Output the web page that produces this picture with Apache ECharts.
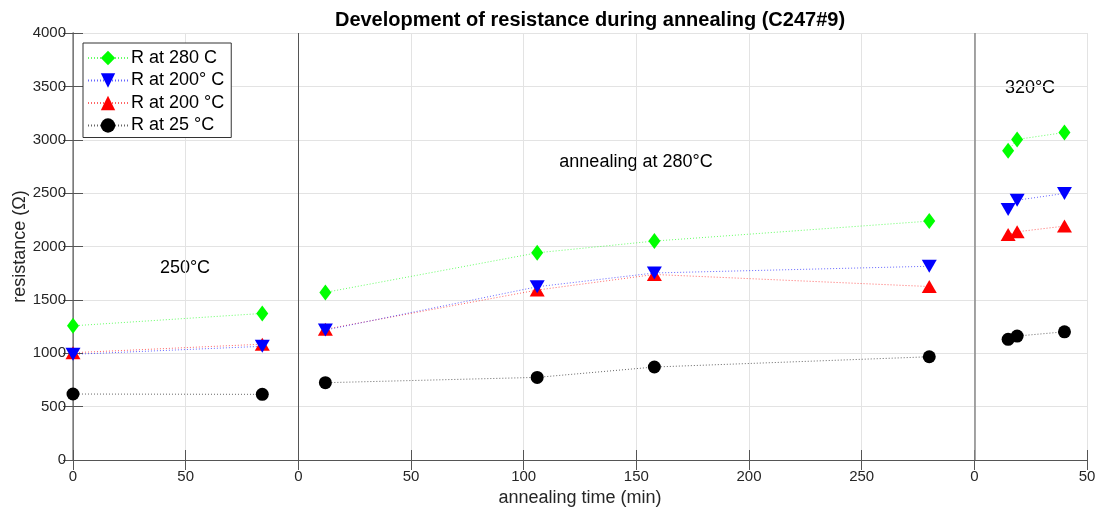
<!DOCTYPE html>
<html>
<head>
<meta charset="utf-8">
<script src="https://cdn.jsdelivr.net/npm/echarts@6/dist/echarts.min.js"></script>
<style>
html,body{margin:0;padding:0;background:#fff;}
#c{width:1097px;height:509px;}
</style>
</head>
<body>
<div id="c"></div>
<script>
// ---- data ----
const segmentOffset = [0, 100, 400];            // where each annealing stage starts on the shared x scale
const segmentOf    = [0, 0, 1, 1, 1, 1, 2, 2, 2];
const localTime    = [0, 84, 12, 106, 158, 280, 15, 19, 40];   // annealing time (min) within stage
const R280   = [1257, 1373, 1570, 1941, 2051, 2238, 2896, 3003, 3068];
const R200a  = [990, 1065, 1217, 1623, 1752, 1815, 2347, 2434, 2497];
const R200b  = [1005, 1085, 1225, 1592, 1738, 1625, 2113, 2138, 2191];
const R25    = [618, 615, 724, 774, 871, 967, 1130, 1161, 1201];
const xTickLabels = ['0', '50', '0', '50', '100', '150', '200', '250', '0', '50'];
const seriesNames = ['R at 280 C', 'R at 200° C', 'R at 200 °C', 'R at 25 °C'];

function build(vals) {
  const out = [];
  for (let i = 0; i < vals.length; i++) {
    if (i > 0 && segmentOf[i] !== segmentOf[i - 1]) out.push([segmentOffset[segmentOf[i]], '-']);
    out.push([segmentOffset[segmentOf[i]] + localTime[i], vals[i]]);
  }
  return out;
}

const FONT = '"Liberation Sans", Arial, Helvetica, sans-serif';
const chart = echarts.init(document.getElementById('c'), null, {renderer: 'canvas'});

function lineSeries(name, vals, color, symbol, size, rotate, z) {
  return {
    name: name, type: 'line', data: build(vals), z: z,
    symbol: symbol, symbolSize: size, symbolRotate: rotate,
    connectNulls: false,
    itemStyle: {color: color, opacity: 1},
    lineStyle: {color: color, width: 1, type: [1, 2], opacity: 0.6},
    emphasis: {disabled: true},
    animation: false
  };
}

const option = {
  backgroundColor: '#fff',
  animation: false,
  title: {
    text: 'Development of resistance during annealing (C247#9)',
    left: 585, textAlign: 'center', top: 5,
    textStyle: {fontFamily: FONT, fontSize: 20, fontWeight: 'bold', color: '#000'}
  },
  grid: {left: 73, right: 10, top: 33, bottom: 49, containLabel: false, outerBoundsMode: 'none'},
  legend: {
    data: seriesNames,
    orient: 'vertical', left: 83, top: 43,
    itemWidth: 40, itemHeight: 18, itemGap: 4.5,
    padding: [6, 7, 3, 4],
    backgroundColor: '#fff', borderColor: '#333', borderWidth: 1,
    textStyle: {fontFamily: FONT, fontSize: 18, color: '#000', padding: [0, 0, 0, -2]},
    symbolRotate: 'inherit'
  },
  xAxis: [{
    type: 'value', min: 0, max: 450, interval: 50,
    name: 'annealing time (min)', nameLocation: 'middle', nameGap: 29, nameMoveOverlap: false,
    nameTextStyle: {fontFamily: FONT, fontSize: 18, color: '#262626'},
    axisLine: {show: true, lineStyle: {color: '#555', width: 1}},
    axisTick: {show: true, inside: true, length: 10, lineStyle: {color: '#555'}},
    axisLabel: {fontFamily: FONT, fontSize: 15, color: '#262626', margin: 9,
      formatter: v => xTickLabels[Math.round(v / 50)]},
    splitLine: {show: true, lineStyle: {color: '#e3e3e3', width: 1}}
  }, {
    type: 'value', position: 'top', min: 0, max: 450, interval: 50,
    axisLine: {show: true, lineStyle: {color: '#555', width: 1}},
    axisTick: {show: true, inside: true, length: 10, lineStyle: {color: '#555'}},
    axisLabel: {show: false}, splitLine: {show: false}
  }],
  yAxis: [{
    type: 'value', min: 0, max: 4000, interval: 500,
    name: 'resistance (Ω)', nameLocation: 'middle', nameGap: 44, nameRotate: 90, nameMoveOverlap: false,
    nameTextStyle: {fontFamily: FONT, fontSize: 18, color: '#262626'},
    axisLine: {show: true, lineStyle: {color: '#555', width: 1}},
    axisTick: {show: true, inside: true, length: 10, lineStyle: {color: '#555'}},
    axisLabel: {fontFamily: FONT, fontSize: 15, color: '#262626', margin: 7, formatter: v => String(v)},
    splitLine: {show: true, lineStyle: {color: '#e3e3e3', width: 1}}
  }, {
    type: 'value', position: 'right', min: 0, max: 4000, interval: 500,
    axisLine: {show: true, lineStyle: {color: '#888', width: 1.5}},
    axisTick: {show: true, inside: true, length: 10, lineStyle: {color: '#555'}},
    axisLabel: {show: false}, splitLine: {show: false}
  }],
  series: [
    Object.assign(lineSeries(seriesNames[3], R25, '#000000', 'circle', 13, 0, 2), {
      markLine: {
        silent: true, symbol: ['none', 'none'], label: {show: false},
        animation: false,
        data: [
          {xAxis: segmentOffset[1], lineStyle: {color: '#555', width: 1, type: 'solid'}},
          {xAxis: segmentOffset[2], lineStyle: {color: '#888', width: 1.5, type: 'solid'}}
        ]
      }
    }),
    lineSeries(seriesNames[2], R200b, '#ff0000', 'triangle', [15, 13], 0, 3),
    lineSeries(seriesNames[1], R200a, '#0000ff', 'triangle', [15, 13], 180, 4),
    lineSeries(seriesNames[0], R280, '#00ff00', 'diamond', [12, 16], 0, 5)
  ],
  graphic: [
    {type: 'text', x: 185, y: 268, style: {text: '250°C', font: '18px ' + FONT, fill: '#000', align: 'center', verticalAlign: 'middle'}},
    {type: 'text', x: 636, y: 162, style: {text: 'annealing at 280°C', font: '18px ' + FONT, fill: '#000', align: 'center', verticalAlign: 'middle'}},
    {type: 'text', x: 1030, y: 88, style: {text: '320°C', font: '18px ' + FONT, fill: '#000', align: 'center', verticalAlign: 'middle'}}
  ]
};
chart.setOption(option);
</script>
</body>
</html>
